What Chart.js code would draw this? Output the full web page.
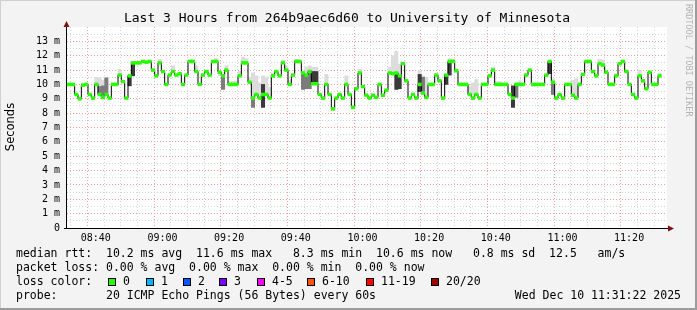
<!DOCTYPE html>
<html>
<head>
<meta charset="utf-8">
<script src="https://cdn.jsdelivr.net/npm/chart.js@4"></script>
<style>
  html, body { margin: 0; padding: 0; background: #f3f3f3; }
  canvas { display: block; }
</style>
</head>
<body>
<canvas id="grafica" width="697" height="310"></canvas>
<script>
const ctx = document.getElementById("grafica");

// minutos desde 08:31:22, cada paso dura un minuto
const inicio = 8 * 60 + 31 + 22 / 60;
const duracion = 180;
const centroPrimerPaso = -0.2;

// mediana rtt (ms) por paso
const medianas = [
  10.0,
  10.0, 10.0, 9.3, 9.0, 9.95, 10.0, 9.3, 9.05, 10.0, 9.3,
  9.1, 9.3, 9.05, 10.0, 10.0, 10.65, 10.2, 9.05, 10.6, 11.5,
  11.5, 11.5, 11.6, 11.55, 11.6, 11.0, 10.6, 11.5, 10.9, 10.0,
  10.65, 10.9, 10.65, 10.75, 10.0, 10.65, 11.6, 11.6, 10.9, 10.0,
  10.65, 10.9, 10.65, 11.6, 11.6, 10.85, 10.6, 11.0, 10.0, 10.0,
  10.0, 10.6, 11.5, 11.5, 10.15, 9.05, 9.3, 9.05, 9.3, 9.3,
  9.05, 10.6, 10.9, 10.6, 11.5, 11.0, 10.0, 10.65, 11.6, 11.6,
  10.8, 10.65, 10.9, 10.05, 10.05, 9.3, 9.05, 10.0, 9.3, 8.3,
  9.05, 9.3, 9.05, 10.0, 9.3, 8.4, 9.7, 10.8, 9.85, 9.25,
  9.05, 9.25, 9.1, 10.0, 9.25, 9.6, 10.8, 10.75, 10.8, 10.6,
  11.45, 10.25, 9.05, 9.3, 9.05, 10.0, 9.4, 9.1, 10.0, 10.0,
  10.65, 10.25, 9.05, 10.65, 11.6, 11.6, 10.95, 10.0, 10.0, 10.0,
  9.3, 9.05, 9.3, 9.05, 10.0, 10.0, 10.6, 11.0, 10.0, 10.0,
  10.0, 10.0, 9.3, 9.05, 10.0, 10.0, 10.0, 10.65, 11.0, 10.0,
  10.0, 10.0, 10.0, 10.65, 11.6, 10.15, 9.05, 9.3, 9.05, 10.0,
  10.0, 9.25, 9.05, 10.0, 10.7, 11.6, 11.6, 10.9, 10.6, 11.45,
  11.35, 10.85, 10.0, 10.0, 10.6, 11.45, 11.6, 10.9, 10.0, 9.3,
  9.05, 10.6, 10.25, 9.7, 10.85, 10.0, 10.0, 10.6
];

// humo: [paso, desde, hasta]
const humoClaro = [
  [9, 10.0, 10.5], [10, 9.3, 10.45], [11, 9.1, 10.3], [12, 9.3, 10.5], [16, 10.65, 11.05],
  [28, 11.5, 11.75], [32, 10.9, 11.3], [39, 10.9, 11.3], [45, 11.6, 11.8], [46, 10.6, 10.85],
  [48, 11.0, 11.3], [49, 10.0, 10.2], [50, 10.0, 10.2], [51, 10.0, 10.25], [52, 10.6, 10.9],
  [53, 11.5, 11.9], [54, 11.5, 11.8], [55, 10.15, 10.5], [56, 9.05, 10.8], [57, 9.3, 10.6],
  [58, 9.05, 10.1], [59, 9.3, 10.6], [60, 9.3, 10.5], [61, 9.05, 9.8], [62, 10.6, 10.8],
  [65, 11.5, 11.7], [66, 11.0, 11.3], [67, 10.0, 10.3], [69, 11.6, 11.75], [72, 10.65, 11.2],
  [73, 10.9, 11.3], [74, 10.05, 11.2], [75, 10.05, 11.2], [78, 10.0, 10.7], [84, 10.0, 10.6],
  [88, 10.8, 11.05], [97, 10.8, 11.2], [98, 10.75, 12.0], [99, 10.8, 12.3], [100, 10.6, 11.4],
  [106, 10.0, 10.95], [107, 9.4, 10.6], [108, 9.1, 10.5], [115, 11.6, 11.8], [116, 11.6, 11.75],
  [117, 10.95, 11.1], [121, 9.3, 9.9], [122, 9.05, 10.1], [123, 9.3, 10.35], [128, 11.0, 11.2],
  [129, 10.0, 10.2], [130, 10.0, 10.2], [136, 10.0, 10.25], [138, 10.65, 10.8], [146, 10.15, 10.4],
  [152, 9.25, 10.3], [153, 9.05, 10.4], [160, 11.45, 11.75], [161, 11.35, 11.7], [165, 10.6, 10.75],
  [172, 10.6, 11.0], [178, 10.6, 10.8]
];
const humoMedio = [
  [10, 9.3, 9.85], [11, 9.1, 9.9], [12, 9.3, 10.45], [47, 9.65, 10.6], [56, 8.4, 9.05],
  [71, 9.65, 10.8], [72, 9.7, 10.65], [73, 9.7, 10.9], [107, 9.4, 10.5], [135, 9.1, 10.0],
  [146, 9.3, 10.15]
];
const humoOscuro = [
  [19, 9.9, 10.6], [20, 10.6, 11.5], [59, 8.4, 10.0], [74, 10.05, 10.9], [75, 10.05, 10.9],
  [99, 9.65, 10.8], [100, 9.7, 10.6], [106, 9.5, 10.7], [114, 10.0, 10.65], [115, 10.65, 11.6],
  [134, 8.4, 9.9], [145, 10.75, 11.6]
];

const titulo = "Last 3 Hours from 264b9aec6d60 to University of Minnesota";
const lineasLeyenda = [
  "median rtt:  10.2 ms avg  11.6 ms max   8.3 ms min  10.6 ms now   0.8 ms sd  12.5   am/s",
  "packet loss: 0.00 % avg  0.00 % max  0.00 % min  0.00 % now",
  "loss color:",
  "probe:       20 ICMP Echo Pings (56 Bytes) every 60s"
];
const fechaGrafica = "Wed Dec 10 11:31:22 2025";
const etiquetasPerdida = ["0", "1", "2", "3", "4-5", "6-10", "11-19", "20/20"];
const coloresPerdida = ["#26ff00", "#00b8ff", "#0059ff", "#7e00ff", "#ff00ff", "#ff5500", "#ff0000", "#a10000"];
const posicionesPerdida = [108, 146, 183, 219, 257, 307, 366, 431];

const xDe = (i) => i + centroPrimerPaso;
const puntosMediana = medianas.map((v, i) => ({ x: xDe(i), y: v }));
const barrasMediana = medianas.map((v, i) => ({ x: xDe(i), y: [v - 0.1, v + 0.1] }));
const barrasHumo = (lista) => lista.map(([i, a, b]) => ({ x: xDe(i), y: [a, b] }));

const mono = "'DejaVu Sans Mono', monospace";

const reloj = (t) => {
  const total = Math.round(inicio + t);
  const h = Math.floor(total / 60);
  const m = total % 60;
  return String(h).padStart(2, "0") + ":" + String(m).padStart(2, "0");
};

const fondo = {
  id: "fondo",
  beforeDraw(chart) {
    const c = chart.ctx;
    const a = chart.chartArea;
    c.save();
    c.fillStyle = "#f3f3f3";
    c.fillRect(0, 0, chart.width, chart.height);
    c.fillStyle = "#ffffff";
    c.fillRect(a.left, a.top, a.right - a.left, a.bottom - a.top);
    c.restore();
  },
  afterDraw(chart) {
    const c = chart.ctx;
    const a = chart.chartArea;
    c.save();
    // marco
    c.strokeStyle = "#d0d0d0";
    c.lineWidth = 1;
    c.strokeRect(0.5, 0.5, chart.width - 1, chart.height - 1);
    c.fillStyle = "#9c9c9c";
    c.fillRect(chart.width - 2, 0, 2, chart.height);
    c.fillRect(0, chart.height - 2, chart.width, 2);

    // ejes
    c.strokeStyle = "#000";
    c.beginPath();
    c.moveTo(a.left - 0.5, a.bottom + 0.5);
    c.lineTo(a.left - 0.5, a.top);
    c.moveTo(a.left - 3, a.bottom + 0.5);
    c.lineTo(a.right + 2, a.bottom + 0.5);
    c.stroke();
    c.fillStyle = "#7f1010";
    c.beginPath();
    c.moveTo(a.left - 0.5, a.top - 6);
    c.lineTo(a.left - 3.5, a.top);
    c.lineTo(a.left + 2.5, a.top);
    c.closePath();
    c.fill();
    c.beginPath();
    c.moveTo(a.right + 7, a.bottom + 0.5);
    c.lineTo(a.right + 1, a.bottom - 2.5);
    c.lineTo(a.right + 1, a.bottom + 3.5);
    c.closePath();
    c.fill();

    // textos
    c.fillStyle = "#000";
    c.textBaseline = "middle";
    c.textAlign = "center";
    c.font = "13px " + mono;
    c.fillText(titulo, 347, 19);

    c.save();
    c.translate(11, 127);
    c.rotate(-Math.PI / 2);
    c.font = "11.5px 'DejaVu Sans', sans-serif";
    c.fillText("Seconds", 0, 0);
    c.restore();

    c.save();
    c.translate(688, 4);
    c.rotate(Math.PI / 2);
    c.textAlign = "left";
    c.fillStyle = "#b4b4b4";
    c.font = "8.5px " + mono;
    c.fillText("RRDTOOL / TOBI OETIKER", 0, 0);
    c.restore();

    c.textAlign = "left";
    c.font = "11.5px " + mono;
    lineasLeyenda.forEach((txt, i) => c.fillText(txt, 16, 254 + i * 14));
    etiquetasPerdida.forEach((txt, i) => {
      const x = posicionesPerdida[i];
      c.fillStyle = coloresPerdida[i];
      c.fillRect(x, 278, 8, 8);
      c.strokeStyle = "#000";
      c.strokeRect(x + 0.5, 278.5, 7, 7);
      c.fillStyle = "#000";
      c.fillText(txt, x + 15, 282);
    });
    c.textAlign = "right";
    c.fillText(fechaGrafica, 681, 296);
    c.restore();
  }
};

const colorRejillaX = (c) => {
  if (!c.tick) return "rgba(0,0,0,0)";
  const total = Math.round(inicio + c.tick.value);
  return total % 20 === 0 ? "#f2a0a0" : "#d4d4d4";
};
const colorRejillaY = (c) => {
  if (!c.tick) return "rgba(0,0,0,0)";
  const v = c.tick.value;
  if (v >= 14 || v === 0) return "rgba(0,0,0,0)";
  return Number.isInteger(v) ? "#f2a0a0" : "#d4d4d4";
};

new Chart(ctx, {
  type: "bar",
  data: {
    datasets: [
      {
        data: barrasMediana,
        backgroundColor: "#26ff00",
        grouped: false,
        categoryPercentage: 1,
        barPercentage: 1,
        borderWidth: 0,
        order: 0
      },
      {
        type: "line",
        data: puntosMediana,
        borderColor: "#000",
        borderWidth: 1,
        stepped: "middle",
        pointRadius: 0,
        order: 1
      },
      {
        data: barrasHumo(humoOscuro),
        backgroundColor: "#3a3a3a",
        grouped: false,
        categoryPercentage: 1,
        barPercentage: 1,
        borderWidth: 0,
        order: 2
      },
      {
        data: barrasHumo(humoMedio),
        backgroundColor: "#7c7c7c",
        grouped: false,
        categoryPercentage: 1,
        barPercentage: 1,
        borderWidth: 0,
        order: 3
      },
      {
        data: barrasHumo(humoClaro),
        backgroundColor: "#dcdcdc",
        grouped: false,
        categoryPercentage: 1,
        barPercentage: 1,
        borderWidth: 0,
        order: 4
      }
    ]
  },
  options: {
    responsive: false,
    animation: false,
    devicePixelRatio: 1,
    layout: { padding: { left: 0, right: 30, top: 27, bottom: 0 } },
    plugins: { legend: { display: false }, tooltip: { enabled: false } },
    scales: {
      x: {
        type: "linear",
        min: 0,
        max: duracion,
        offset: false,
        afterBuildTicks: (scale) => {
          const ticks = [];
          for (let t = 3 + 38 / 60; t <= duracion; t += 5) ticks.push({ value: t });
          scale.ticks = ticks;
        },
        afterFit: (scale) => { scale.height = 82; },
        ticks: {
          autoSkip: false,
          maxRotation: 0,
          padding: 4,
          color: "#000",
          font: { family: mono, size: 10 },
          callback: (v) => {
            const total = Math.round(inicio + v);
            return total % 20 === 0 ? reloj(v) : "";
          }
        },
        grid: { drawTicks: false, color: colorRejillaX },
        border: { display: false, dash: [1, 2] }
      },
      y: {
        min: 0,
        max: 14,
        afterFit: (scale) => { scale.width = 67; },
        ticks: {
          stepSize: 0.5,
          autoSkip: false,
          padding: 7,
          color: "#000",
          font: { family: mono, size: 10 },
          callback: (v) => (Number.isInteger(v) && v < 14) ? (v === 0 ? "0" : v + " m") : ""
        },
        grid: { drawTicks: false, color: colorRejillaY },
        border: { display: false, dash: [1, 2] }
      }
    }
  },
  plugins: [fondo]
});
</script>
</body>
</html>
